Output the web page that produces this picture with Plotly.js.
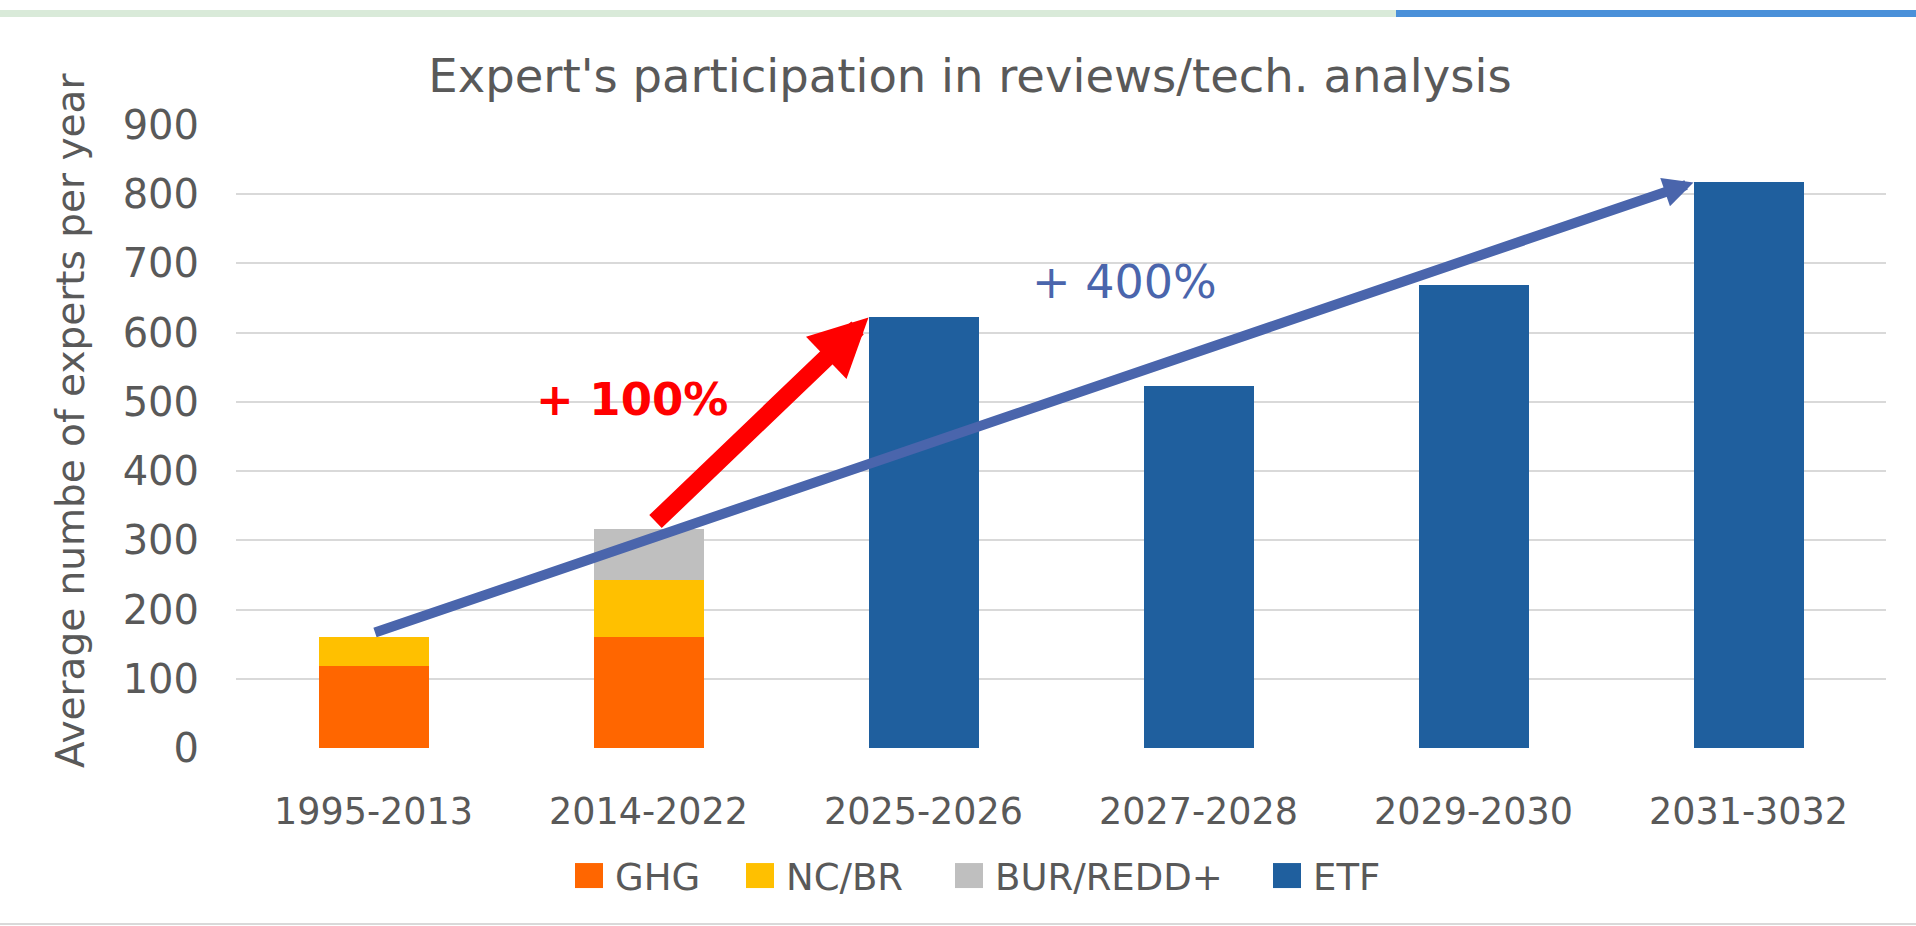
<!DOCTYPE html>
<html>
<head>
<meta charset="utf-8">
<script src="https://cdn.plot.ly/plotly-3.0.1.min.js"></script>
<style>html,body{margin:0;padding:0;background:#fff;}#chart{width:1916px;height:926px;}</style>
</head>
<body>
<div id="chart"></div>
<script>
// ---- data ----
const categories = ["1995-2013", "2014-2022", "2025-2026", "2027-2028", "2029-2030", "2031-3032"];
const ghg  = [118, 161, null, null, null, null];
const ncbr = [43, 82, null, null, null, null];
const bur  = [null, 74, null, null, null, null];
const etf  = [null, null, 622, 523, 669, 817];
const seriesNames = ["GHG", "NC/BR", "BUR/REDD+", "ETF"];
const seriesColors = ["#FF6600", "#FFC000", "#BFBFBF", "#1F5F9E"];
const yTicks = [0, 100, 200, 300, 400, 500, 600, 700, 800, 900];
const label100 = "+ 100%";
const label400 = "+ 400%";

// ---- layout geometry ----
const W = 1916, H = 926;
const M = {l: 236, r: 30, t: 125, b: 178};
const pw = W - M.l - M.r, ph = H - M.t - M.b;
const px2x = p => (p - M.l) / pw;
const px2y = p => (H - M.b - p) / ph;

const tot = i => (ghg[i] || 0) + (ncbr[i] || 0) + (bur[i] || 0) + (etf[i] || 0);
const halfBar = 0.2;

const legendIds = ["legend", "legend2", "legend3", "legend4"];
const legendLeftPx = [575, 746, 955, 1273];

const traces = [ghg, ncbr, bur, etf].map((vals, k) => ({
  type: "bar",
  name: seriesNames[k],
  x: categories,
  y: vals,
  legend: legendIds[k],
  showlegend: true,
  marker: {color: seriesColors[k]},
  hoverinfo: "x+y+name"
}));

const fontFam = "DejaVu Sans, Verdana, sans-serif";
const grey = "#595959";

const layout = {
  width: W, height: H,
  margin: M,
  showlegend: true,
  paper_bgcolor: "#fff",
  plot_bgcolor: "#fff",
  barmode: "stack",
  bargap: 0.6,
  font: {family: fontFam, color: grey, size: 38},
  title: {
    text: "Expert's participation in reviews/tech. analysis",
    font: {family: fontFam, size: 46.5, color: grey},
    x: 970 / W, xanchor: "center",
    y: 1 - 76 / H, yanchor: "middle"
  },
  xaxis: {
    type: "category",
    showgrid: false, zeroline: false, showline: false,
    ticks: "", tickfont: {family: fontFam, size: 36.5, color: grey},
    ticklabelstandoff: 38,
    automargin: false
  },
  yaxis: {
    range: [0, 900],
    tickvals: yTicks,
    showgrid: true, gridcolor: "#D9D9D9", gridwidth: 2,
    zeroline: false, showline: false,
    ticks: "", tickfont: {family: fontFam, size: 40, color: grey},
    ticklabelstandoff: 36,
    automargin: false
  },
  annotations: [
    {
      xref: "paper", yref: "paper", x: px2x(70), y: px2y(421),
      text: "Average numbe of experts per year", textangle: -90,
      showarrow: false, xanchor: "center", yanchor: "middle",
      font: {family: fontFam, size: 39, color: grey}
    },
    {
      xref: "x", yref: "y", axref: "x", ayref: "y",
      x: 5 - halfBar, y: etf[5],
      ax: 0, ay: tot(0) + 5,
      showarrow: true, arrowhead: 2, arrowsize: 0.6, arrowwidth: 10,
      arrowcolor: "#4A65AC", text: "", standoff: 0, startstandoff: 0
    },
    {
      xref: "x", yref: "y", axref: "x", ayref: "y",
      x: 2 - halfBar, y: etf[2],
      ax: 1 + 0.02, ay: tot(1) + 8,
      showarrow: true, arrowhead: 2, arrowsize: 0.65, arrowwidth: 18,
      arrowcolor: "#FF0000", text: "", standoff: 0, startstandoff: 0
    },
    {
      xref: "x", yref: "y", x: 0.94, y: 503,
      text: "<b>" + label100 + "</b>", showarrow: false,
      font: {family: fontFam, size: 45, color: "#FF0000"}
    },
    {
      xref: "x", yref: "y", x: 2.73, y: 673,
      text: label400, showarrow: false,
      font: {family: fontFam, size: 46, color: "#4A65AC"}
    }
  ],
  shapes: [
    {type: "rect", xref: "paper", yref: "paper", x0: px2x(0), x1: px2x(1396), y0: px2y(17), y1: px2y(10),
     fillcolor: "#D9EAD9", line: {width: 0}, layer: "below"},
    {type: "rect", xref: "paper", yref: "paper", x0: px2x(1396), x1: px2x(1916), y0: px2y(17), y1: px2y(10),
     fillcolor: "#4A90D9", line: {width: 0}, layer: "below"},
    {type: "line", xref: "paper", yref: "paper", x0: px2x(0), x1: px2x(1916), y0: px2y(924), y1: px2y(924),
     line: {color: "#D9D9D9", width: 2}}
  ]
};

legendIds.forEach((id, k) => {
  layout[id] = {
    visible: true,
    orientation: "h",
    x: px2x(legendLeftPx[k]), xanchor: "left",
    y: px2y(876), yanchor: "middle",
    font: {family: fontFam, size: 37, color: grey},
    bgcolor: "rgba(0,0,0,0)", borderwidth: 0,
    itemwidth: 30
  };
});

Plotly.newPlot("chart", traces, layout, {displayModeBar: false, staticPlot: true}).then(gd => {
  // enlarge legend swatches to match the reference's square markers
  gd.querySelectorAll(".legendpoints path").forEach(p => {
    p.setAttribute("d", "M8,12.5H-20V-12.5H8Z");
  });
});
</script>
</body>
</html>
